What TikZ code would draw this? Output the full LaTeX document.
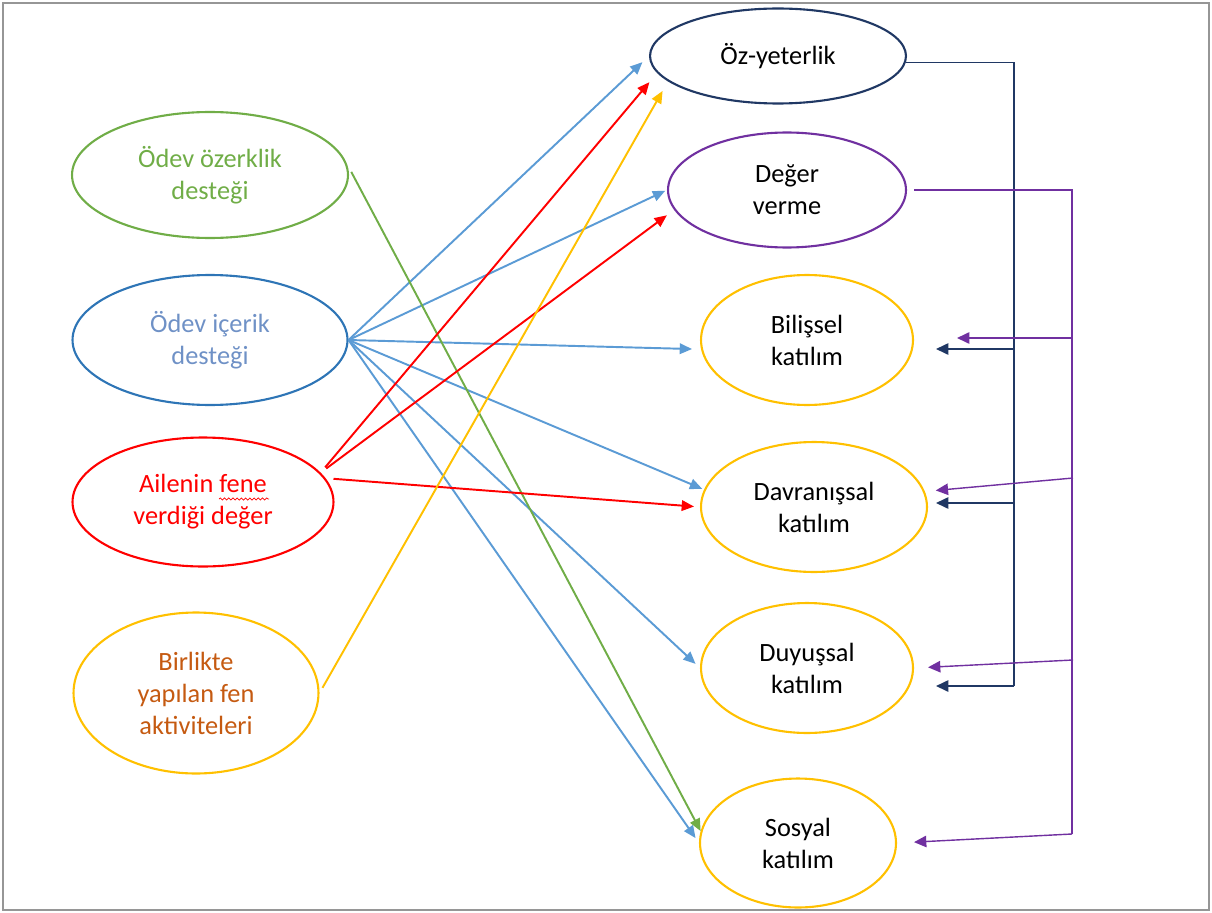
\documentclass[tikz,border=0pt]{standalone}
\usepackage{fontspec}
\setmainfont{Carlito}
\usetikzlibrary{shapes.geometric,arrows.meta,decorations.pathmorphing}

\definecolor{framegray}{RGB}{150,150,150}
\definecolor{odevgreen}{HTML}{70AD47}
\definecolor{odevblue}{HTML}{2E75B6}
\definecolor{odevbluetext}{HTML}{6F91C6}
\definecolor{arrowblue}{HTML}{5B9BD5}
\definecolor{ailered}{HTML}{FF0000}
\definecolor{gold}{HTML}{FFC000}
\definecolor{rust}{HTML}{C55A11}
\definecolor{navy}{HTML}{203864}
\definecolor{plum}{HTML}{7030A0}

\tikzset{
  oval/.style={ellipse, draw, line width=1.2pt, align=center, inner sep=0pt,
    font=\fontsize{15}{18.2}\selectfont},
  link/.style={line width=1.1pt, -{Triangle[length=7pt,width=6pt]}},
  trunk/.style={line width=0.8pt},
  trunkarrow/.style={trunk, -{Triangle[length=7pt,width=6.5pt]}},
  squiggle/.style={line width=0.4pt, decorate, decoration={snake, amplitude=0.6pt, segment length=2.4pt}}
}

\begin{document}
\begin{tikzpicture}[x=0.02cm, y=-0.02cm]
            \useasboundingbox (0,0) rectangle (1212,912);
            \draw [framegray, line width=1.1pt] (3,3) rectangle (1209,910);

            % Drawing left ovals
            \node [oval, draw=odevgreen, text=odevgreen, minimum width=5.52cm, minimum height=2.52cm] (ozerklik) at (210,175) {Ödev özerklik\\desteği};
            \node [oval, draw=odevblue, text=odevbluetext, minimum width=5.5cm, minimum height=2.6cm] (icerik) at (210,340) {Ödev içerik\\desteği};
            \node [oval, draw=ailered, text=ailered, minimum width=5.22cm, minimum height=2.58cm] (aile) at (203,502) {Ailenin fene\\verdiği değer};
            \node [oval, draw=gold, text=rust, minimum width=4.9cm, minimum height=3.22cm] (birlikte) at (196,693) {Birlikte\\yapılan fen\\aktiviteleri};

            % Wavy mark under "fene"
            \draw [squiggle, ailered] ([shift={(16,-3)}]aile.center) -- ([shift={(66,-3)}]aile.center);

            % Drawing right ovals
            \node [oval, draw=navy, minimum width=5.12cm, minimum height=1.9cm] (oz) at (778,56) {Öz-yeterlik};
            \node [oval, draw=plum, minimum width=4.76cm, minimum height=2.3cm] (deger) at (787,190) {Değer\\verme};
            \node [oval, draw=gold, minimum width=4.24cm, minimum height=2.6cm] (bilissel) at (807,340) {Bilişsel\\katılım};
            \node [oval, draw=gold, minimum width=4.52cm, minimum height=2.6cm] (davranis) at (814,507) {Davranışsal\\katılım};
            \node [oval, draw=gold, minimum width=4.24cm, minimum height=2.6cm] (duyussal) at (807,668) {Duyuşsal\\katılım};
            \node [oval, draw=gold, minimum width=3.92cm, minimum height=2.58cm] (sosyal) at (798,843) {Sosyal\\katılım};

            % Drawing arrows from Ödev içerik desteği
            \draw [link, arrowblue, shorten >=0.18cm] (icerik.east) -- (oz.west);
            \draw [link, arrowblue, shorten >=0.04cm] (icerik.east) -- (deger.west);
            \draw [link, arrowblue, shorten >=0.18cm] (icerik.east) -- (bilissel.185);
            \draw [link, arrowblue, shorten >=0.04cm] (icerik.east) -- (davranis.171);
            \draw [link, arrowblue, shorten >=0.12cm] (icerik.east) -- (duyussal.west);
            \draw [link, arrowblue, shorten >=0.12cm] (icerik.east) -- (sosyal.west);

            % Drawing arrow from Ödev özerklik desteği
            \draw [link, odevgreen, shorten <=0.2cm] (ozerklik.5) -- (sosyal.173);

            % Drawing arrows from Ailenin fene verdiği değer
            \draw [link, ailered, shorten <=0.14cm, shorten >=0.24cm] (aile.14) -- (oz.188);
            \draw [link, ailered, shorten <=0.14cm, shorten >=0.18cm] (aile.14) -- (deger.190);
            \draw [link, ailered, shorten <=0.16cm, shorten >=0.12cm] (aile.11) -- (davranis.west);

            % Drawing arrow from Birlikte yapılan fen aktiviteleri
            \draw [link, gold, shorten <=0.12cm, shorten >=0.22cm] (birlikte.east) -- (oz.193);

            % Drawing trunk from Öz-yeterlik
            \coordinate (navy1) at (1014,349);
            \coordinate (navy2) at (1014,503);
            \coordinate (navy3) at (1014,686);
            \draw [trunk, navy] (oz.-3) -| (navy3);
            \draw [trunkarrow, navy, shorten >=0.44cm] (navy1) -- (navy1 -| bilissel.east);
            \draw [trunkarrow, navy, shorten >=0.16cm] (navy2) -- (navy2 -| davranis.east);
            \draw [trunkarrow, navy, shorten >=0.44cm] (navy3) -- (navy3 -| duyussal.east);

            % Drawing trunk from Değer verme
            \coordinate (plum1) at (1072,338);
            \coordinate (plum2) at (1073,478);
            \coordinate (plum3) at (1073,660);
            \coordinate (plum4) at (1072,834);
            \draw [trunk, plum, shorten <=0.14cm] (deger.east) -| (plum4);
            \draw [trunkarrow, plum, shorten >=0.86cm] (plum1) -- (plum1 -| bilissel.east);
            \draw [trunkarrow, plum, shorten >=0.22cm] (plum2) -- (davranis.8);
            \draw [trunkarrow, plum, shorten >=0.28cm] (plum3) -- (duyussal.east);
            \draw [trunkarrow, plum, shorten >=0.34cm] (plum4) -- (sosyal.east);
\end{tikzpicture}
\end{document}
